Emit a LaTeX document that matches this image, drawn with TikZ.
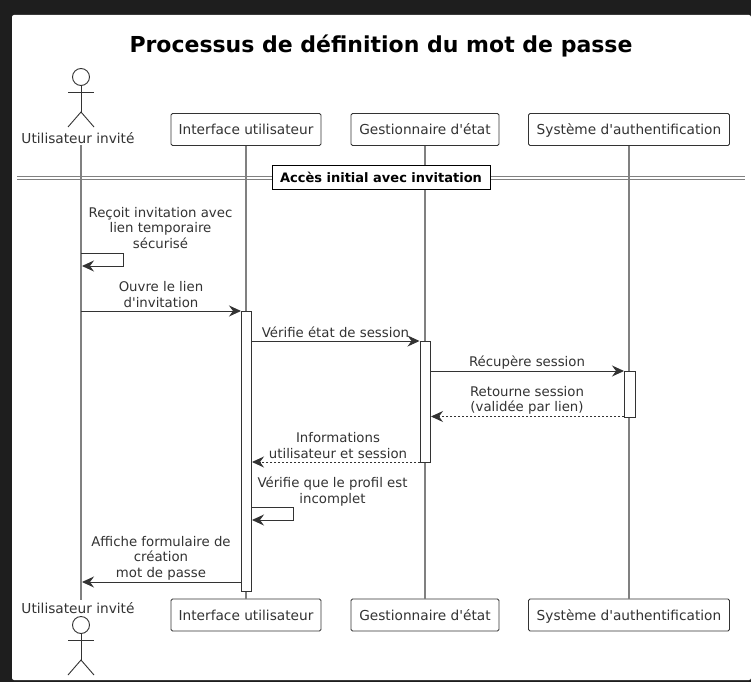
\documentclass[tikz,border=0pt]{standalone}
\usepackage{fontspec}
\setmainfont{DejaVu Sans}
\newfontfamily\plainfont{DejaVu Sans}
\usetikzlibrary{arrows.meta}
\definecolor{bgdark}{HTML}{1E1E1E}
\definecolor{lifegray}{HTML}{808080}
\definecolor{ink}{HTML}{333333}
\tikzset{
  x=1pt,y=-1pt,
  lab/.style={inner sep=0pt,align=center,text=ink,font=\plainfont\fontsize{13.3}{15.6}\selectfont},
  part/.style={draw=ink,fill=white,rounded corners=1.5pt,line width=.9pt,inner sep=0pt,minimum height=32pt,text height=10pt,text depth=0pt,text=ink,font=\plainfont\fontsize{13.7}{16}\selectfont},
  actorname/.style={inner sep=0pt,text=ink,font=\plainfont\fontsize{13.7}{16}\selectfont},
  actorline/.style={draw=ink,line width=.9pt},
  life/.style={draw=lifegray,line width=1.4pt},
  act/.style={draw=ink,fill=white,line width=.9pt,inner sep=0pt,minimum width=10pt},
  msg/.style={draw=ink,line width=.95pt,-{Stealth[length=12pt,width=11pt,inset=4pt]}},
  ret/.style={msg,dash pattern=on 2pt off 2pt},
}
\begin{document}
\begin{tikzpicture}
\useasboundingbox (0,0) rectangle (751,682);
\fill[bgdark] (0,0) rectangle (751,682);
\fill[white,rounded corners=2pt] (12,15) rectangle (751,680);
\node[inner sep=0pt,text=black,font=\plainfont\fontsize{22}{26}\selectfont\bfseries] (title) at (381,45.5) {Processus de définition du mot de passe};
% participants
\node[part,minimum width=150pt] (ui) at (246,129.5) {Interface utilisateur};
\node[part,minimum width=148pt] (gs) at (425,129.5) {Gestionnaire d'état};
\node[part,minimum width=201pt] (au) at (629,129.5) {Système d'authentification};
\node[part,minimum width=150pt] (uib) at (246,615) {Interface utilisateur};
\node[part,minimum width=148pt] (gsb) at (425,615) {Gestionnaire d'état};
\node[part,minimum width=201pt] (aub) at (629,615) {Système d'authentification};
\node[actorname] (ut) at (78,138.5) {Utilisateur invité};
\node[actorname] (utb) at (78,608) {Utilisateur invité};
\coordinate (ltop) at (81,145);
\coordinate (lbot) at (81,600);
% lifelines
\draw[life] (ltop) -- (lbot);
\draw[life] (ui.south) -- (uib.north);
\draw[life] (gs.south) -- (gsb.north);
\draw[life] (au.south) -- (aub.north);
% actors
\foreach \yo/\nm in {0/t,548/b}{
  \begin{scope}[shift={(0,\yo)}]
    \node[circle,draw=ink,line width=.9pt,minimum size=17pt,inner sep=0pt] (head\nm) at (81,77) {};
    \coordinate (hip\nm) at (81,112);
    \coordinate (la\nm) at (68,92); \coordinate (ra\nm) at (94,92);
    \coordinate (ll\nm) at (68,127); \coordinate (rl\nm) at (94,127);
    \draw[actorline] (head\nm) -- (hip\nm);
    \draw[actorline] (la\nm) -- (ra\nm);
    \draw[actorline] (ll\nm) -- (hip\nm) -- (rl\nm);
  \end{scope}
}
% divider
\coordinate (d1l) at (17,176.5); \coordinate (d1r) at (745,176.5);
\coordinate (d2l) at (17,179); \coordinate (d2r) at (745,179);
\draw[lifegray,line width=.9pt] (d1l) -- (d1r);
\draw[lifegray,line width=.9pt] (d2l) -- (d2r);
\node[draw=black,fill=white,line width=.9pt,minimum width=218pt,minimum height=24pt,inner sep=0pt,text=black,font=\plainfont\fontsize{13}{15}\selectfont\bfseries] (sec) at (381,177) {Accès initial avec invitation};
% activations
\node[act,minimum height=280pt] (aui) at (246,451) {};
\node[act,minimum height=121pt] (ags) at (425,401.5) {};
\node[act,minimum height=46pt,minimum width=11pt] (aau) at (629.5,394) {};
% message points
\coordinate (m1a) at (81,253); \coordinate (m1b) at (123,253); \coordinate (m1c) at (123,266); \coordinate (m1d) at (82,266);
\coordinate (m2a) at (81,311); \coordinate (m2b) at (241,311);
\coordinate (m3a) at (251,341); \coordinate (m3b) at (419.5,341);
\coordinate (m4a) at (430,371); \coordinate (m4b) at (624,371);
\coordinate (m5a) at (624,416.5); \coordinate (m5b) at (431,416.5);
\coordinate (m6a) at (420,462); \coordinate (m6b) at (252,462);
\coordinate (m7a) at (251,507); \coordinate (m7b) at (293,507); \coordinate (m7c) at (293,520); \coordinate (m7d) at (252,520);
\coordinate (m8a) at (241,582); \coordinate (m8b) at (82,582);
\draw[msg] (m1a) -- (m1b) -- (m1c) -- (m1d);
\draw[msg] (m2a) -- (m2b);
\draw[msg] (m3a) -- (m3b);
\draw[msg] (m4a) -- (m4b);
\draw[ret] (m5a) -- (m5b);
\draw[ret] (m6a) -- (m6b);
\draw[msg] (m7a) -- (m7b) -- (m7c) -- (m7d);
\draw[msg] (m8a) -- (m8b);
% labels
\node[lab] (t1) at (160.5,228) {Reçoit invitation avec\\lien temporaire\\sécurisé};
\node[lab] (t2) at (161,294.5) {Ouvre le lien\\d'invitation};
\node[lab] (t3) at (335.5,332.5) {Vérifie état de session};
\node[lab] (t4) at (527,362.3) {Récupère session};
\node[lab] (t5) at (527,400.3) {Retourne session\\(validée par lien)};
\node[lab] (t6) at (338,445.5) {Informations\\utilisateur et session};
\node[lab] (t7) at (332.5,491.3) {Vérifie que le profil est\\incomplet};
\node[lab] (t8) at (161,558.3) {Affiche formulaire de\\création\\mot de passe};
\end{tikzpicture}
\end{document}
